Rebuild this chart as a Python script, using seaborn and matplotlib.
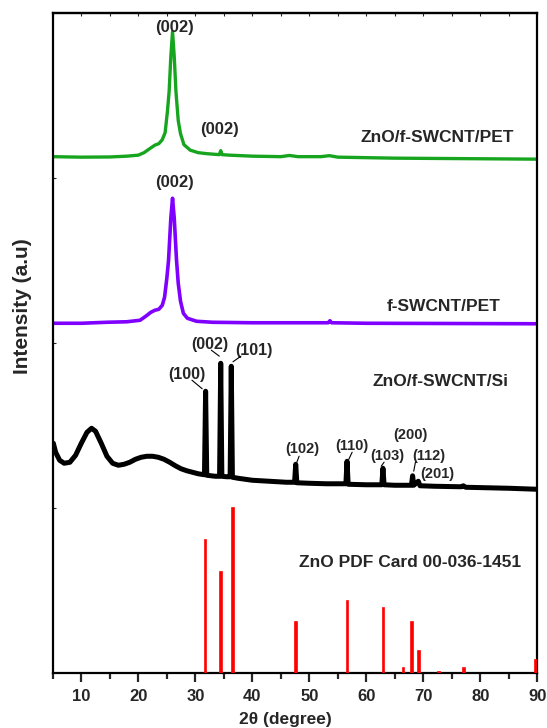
import matplotlib
matplotlib.use("Agg")
import matplotlib.pyplot as plt
from matplotlib.ticker import MultipleLocator
import seaborn as sns
import pandas as pd
import numpy as np

# ZnO/f-SWCNT/PET (intensity above its own baseline)
green_x = [5, 10, 15, 18, 20, 21, 22, 22.9, 23.6, 24.2, 24.7, 25.1, 25.4, 25.7, 26.0, 26.3, 26.6, 27.0,
           27.4, 28.0, 29.1, 30.5, 32, 34.2, 34.45, 34.7, 36, 40, 45, 46.5, 48, 52, 53.5, 55, 65, 90]
green_y = [0, -0.5, -0.3, 0.5, 1.5, 4, 8, 11.5, 13, 17, 24, 45, 65, 100, 125, 100, 65, 36,
           23, 12, 6.5, 4, 3, 2, 6, 2, 1.5, 0.5, 0, 1.2, 0, 0, 1, -0.5, -1.5, -2.5]

# f-SWCNT/PET
purple_x = [5, 10, 14.5, 18, 20.3, 21.3, 22.2, 22.9, 23.6, 24.2, 24.6, 25.0, 25.3, 25.7, 26.0, 26.3,
            26.7, 27.0, 27.4, 27.9, 28.6, 30.2, 33, 40, 50, 53.3, 53.6, 53.9, 60, 90]
purple_y = [0, 0, 1, 1.5, 3, 7, 11, 13, 14, 18, 26, 45, 63, 105, 125, 105,
            63, 40, 22, 10, 5, 2, 1, 0.5, 0.5, 0.5, 2.5, 0.5, 0, -0.5]

# ZnO/f-SWCNT/Si
black_x = [5.1, 5.5, 6.2, 7.0, 8.0, 9.0, 10.0, 11.0, 11.8, 12.5, 13.5, 14.5, 15.5, 16.5, 17.5, 18.5,
           19.5, 20.5, 21.5, 22.5, 23.5, 24.5, 25.5, 26.5, 27.5, 28.5, 29.5, 30.5, 31.6, 31.8, 32.0,
           33.5, 34.25, 34.45, 34.65, 35.5, 36.1, 36.3, 36.5, 37.5, 40, 43, 46, 47.4, 47.6, 47.8, 50,
           53, 56.4, 56.6, 56.8, 60, 62.7, 62.9, 63.1, 65, 67.9, 68.1, 68.3, 69.1, 69.4, 72, 76.6,
           77.0, 77.4, 85, 90]
black_y = [46, 37, 29, 26, 27, 34, 46, 57, 61, 58, 46, 33, 26, 24, 25, 27,
           30, 32, 33, 33, 32, 30, 27, 23.5, 20.5, 18.5, 17, 15.5, 14.5, 98, 14,
           13, 13, 126, 13, 12.5, 12.5, 123, 12, 11, 9, 8, 7, 7, 25, 6.5, 6,
           5.5, 5.5, 28, 5, 4.5, 4.5, 21, 4.5, 4, 4, 13.5, 4, 8, 3.5, 3, 2.5,
           3.5, 2, 1, 0]

# ZnO PDF card 00-036-1451 (relative intensity, %)
card_x = [31.8, 34.5, 36.6, 47.7, 56.7, 63.0, 66.5, 68.0, 69.2, 72.7, 77.1, 89.8]
card_i = [80.6, 61.8, 100, 31.1, 44.2, 39.8, 3.5, 31.1, 13.9, 1.0, 3.5, 7.9]

# vertical stacking of the patterns
offsets = {"green": 516.8, "purple": 350.2, "black": 184.2}
card_scale = 1.65

sns.set_style("ticks")
plt.rcParams['font.family'] = ['Liberation Sans', 'DejaVu Sans']
plt.rcParams['font.weight'] = 'bold'

fig = plt.figure(figsize=(5.47, 7.28), dpi=100)
ax = fig.add_axes([0.0965, 0.0749, 0.8861, 0.9073])

df_g = pd.DataFrame({"x": green_x, "y": np.array(green_y) + offsets["green"]})
df_p = pd.DataFrame({"x": purple_x, "y": np.array(purple_y) + offsets["purple"]})
df_b = pd.DataFrame({"x": black_x, "y": np.array(black_y) + offsets["black"]})

sns.lineplot(data=df_g, x="x", y="y", ax=ax, color="#17a51f", lw=2.4, estimator=None, sort=False)
sns.lineplot(data=df_p, x="x", y="y", ax=ax, color="#8000ff", lw=2.6, estimator=None, sort=False)
sns.lineplot(data=df_b, x="x", y="y", ax=ax, color="black", lw=3.6, estimator=None, sort=False)
ax.bar(card_x, np.array(card_i) * card_scale, width=0.3, color="#ff0000",
       edgecolor="#ff0000", linewidth=1.2, zorder=3)

ax.set_xlim(5, 90)
ax.set_ylim(0, 660.5)

# series labels
lab = dict(fontsize=12.5, fontweight='bold', ha='center', va='center')
ax.text(72.5, 535.7, "ZnO/f-SWCNT/PET", **lab)
ax.text(73.5, 367.3, "f-SWCNT/PET", **lab)
ax.text(73.0, 291.7, "ZnO/f-SWCNT/Si", **lab)
ax.text(67.6, 111.3, "ZnO PDF Card 00-036-1451", **lab)

# peak labels
pk = dict(fontsize=12, fontweight='bold', ha='center', va='center')
ax.text(26.3, 645.7, "(002)", **pk)
ax.text(34.3, 544, "(002)", **pk)
ax.text(26.4, 491.3, "(002)", **pk)

md = dict(fontsize=11.5, fontweight='bold', ha='center', va='center')
ax.text(32.6, 329, "(002)", **md)
ax.text(40.3, 323.3, "(101)", **md)
ax.text(28.5, 299, "(100)", **md)

sm = dict(fontsize=10.5, fontweight='bold', ha='center', va='center')
ax.text(48.8, 224, "(102)", **sm)
ax.text(57.5, 227.3, "(110)", **sm)
ax.text(63.7, 217.3, "(103)", **sm)
ax.text(67.8, 238, "(200)", **sm)
ax.text(70.9, 217.3, "(112)", **sm)
ax.text(72.5, 199.7, "(201)", **sm)

leaders = [((29.4, 293.3), (31.2, 284.7)),
           ((32.8, 323.3), (34.2, 317.3)),
           ((38.0, 317.3), (36.6, 311.7)),
           ((48.2, 217.3), (47.8, 211.3)),
           ((57.5, 221.3), (56.9, 214)),
           ((63.1, 211.3), (62.6, 207.3)),
           ((68.6, 211.3), (68.3, 202.3))]
for start, end in leaders:
    ax.annotate("", xy=end, xytext=start,
                arrowprops=dict(arrowstyle='-', lw=0.8, color='black', shrinkA=0, shrinkB=0))

# axes styling
for s in ax.spines.values():
    s.set_linewidth(1.6)
    s.set_color('black')
ax.xaxis.set_major_locator(MultipleLocator(10))
ax.xaxis.set_minor_locator(MultipleLocator(5))
ax.tick_params(axis='x', which='major', direction='out', length=6.5, width=1.6,
               labelsize=12, pad=5)
ax.tick_params(axis='x', which='minor', direction='out', length=4.3, width=1.6)
ax.set_yticks([165, 330, 495])
ax.set_yticklabels([])
ax.tick_params(axis='y', direction='in', length=2.5, width=0.8)
for t in ax.get_xticklabels():
    t.set_fontweight('bold')

top = ax.secondary_xaxis('top')
top.set_xticks(np.arange(5, 91, 5))
top.set_xticklabels([])
top.tick_params(direction='in', length=2.5, width=0.8)
top.spines['top'].set_linewidth(1.6)

ax.set_xlabel("2θ (degree)", fontsize=12.5, fontweight='bold')
ax.set_ylabel("Intensity (a.u)", fontsize=15, fontweight='bold')
ax.xaxis.set_label_coords(0.48, -0.058)
ax.yaxis.set_label_coords(-0.0435, 0.556)

fig.savefig("out.png", dpi=100)
